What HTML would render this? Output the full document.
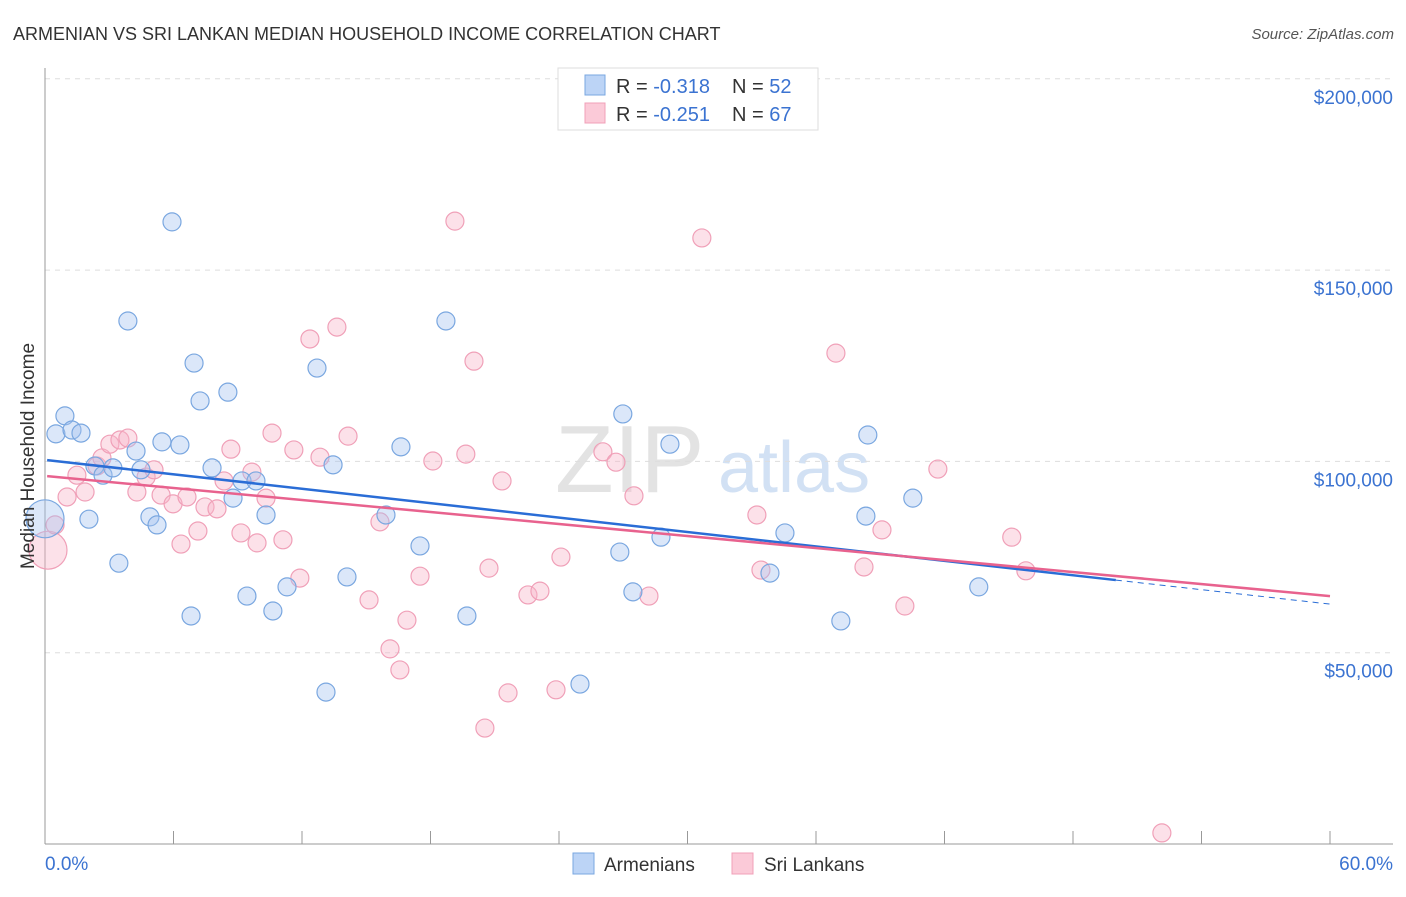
<!DOCTYPE html>
<html><head><meta charset="utf-8"><style>
body{margin:0;background:#fff;font-family:"Liberation Sans",sans-serif;}
svg text{font-family:"Liberation Sans",sans-serif;}
</style></head><body>
<svg id="chart" width="1406" height="892" viewBox="0 0 1406 892" xmlns="http://www.w3.org/2000/svg">
<text x="13" y="40" font-size="18" fill="#333">ARMENIAN VS SRI LANKAN MEDIAN HOUSEHOLD INCOME CORRELATION CHART</text>
<text x="1394" y="39" font-size="15" fill="#555" text-anchor="end" font-style="italic">Source: ZipAtlas.com</text>
<g>
<text x="555" y="492" font-size="96" fill="#ddd" font-family="Liberation Serif" opacity="0.8">ZIP</text>
<text x="718" y="492" font-size="72" fill="#c8daf2" opacity="0.8">atlas</text>
</g>
<g id="grid"></g>
<g id="axes"></g>
<g id="marks"></g>
<g id="lines"></g>
<text transform="translate(34,456) rotate(-90)" font-size="19" fill="#333" text-anchor="middle">Median Household Income</text>
<g>
<rect x="558" y="68" width="260" height="62" fill="#fff" stroke="#ddd"/>
<rect x="585" y="75" width="20" height="20" fill="#bcd4f6" stroke="#7aa7e0"/>
<text x="616" y="93" font-size="20" fill="#333">R = <tspan fill="#3b73d1">-0.318</tspan></text>
<text x="732" y="93" font-size="20" fill="#333">N = <tspan fill="#3b73d1">52</tspan></text>
<rect x="585" y="103" width="20" height="20" fill="#fbcad8" stroke="#f0a0b8"/>
<text x="616" y="121" font-size="20" fill="#333">R = <tspan fill="#3b73d1">-0.251</tspan></text>
<text x="732" y="121" font-size="20" fill="#333">N = <tspan fill="#3b73d1">67</tspan></text>
</g>
<g>
<rect x="573" y="853" width="21" height="21" fill="#bcd4f6" stroke="#7aa7e0"/>
<text x="604" y="871" font-size="19" fill="#333">Armenians</text>
<rect x="732" y="853" width="21" height="21" fill="#fbcad8" stroke="#f0a0b8"/>
<text x="764" y="871" font-size="19" fill="#333">Sri Lankans</text>
</g>
</svg>
<script>
const armX=[0.93,0.51,1.26,1.68,2.33,2.71,3.17,2.05,3.45,3.87,4.25,4.48,4.9,5.23,5.46,5.93,6.3,6.82,6.96,7.24,7.8,8.54,8.78,9.2,9.43,9.85,10.32,10.64,11.3,12.7,13.12,13.45,14.1,15.92,16.62,17.51,18.72,19.7,24.98,26.98,26.84,27.45,28.76,29.18,33.85,34.55,37.16,38.33,38.42,40.52,43.6,0];
const armY=[111.9,107.2,108.2,107.4,98.8,96.4,98.3,84.9,73.4,136.7,102.7,97.8,85.5,83.4,105.1,162.6,104.3,59.6,125.7,115.8,98.3,118.1,90.4,94.9,64.8,94.9,86.0,60.9,67.2,124.4,39.7,99.1,69.8,86.0,103.8,77.9,136.7,59.6,41.8,112.4,76.3,65.9,80.2,104.5,70.8,81.3,58.3,85.7,106.9,90.4,67.2,85];
const sriX=[0.14,0.47,1.03,1.49,1.87,2.43,2.66,3.03,3.5,3.87,4.29,4.72,5.09,5.42,5.98,6.35,6.63,7.14,7.47,8.03,8.36,8.68,9.15,9.66,9.9,10.32,10.6,11.11,11.62,11.9,12.37,12.84,13.63,14.15,15.13,15.64,16.11,16.57,16.9,17.51,18.11,19.14,19.65,20.03,20.73,21.34,21.62,22.55,23.11,23.86,24.09,26.05,26.66,27.5,28.2,30.67,33.24,33.43,36.93,38.24,39.08,40.15,41.69,45.14,45.8,52.15,20.54];
const sriY=[76.8,83.4,90.7,96.4,92.0,98.8,100.9,104.5,105.6,106.1,92.0,95.9,97.8,91.2,88.9,78.4,90.7,81.8,88.1,87.6,94.9,103.2,81.3,97.2,78.7,90.4,107.4,79.5,103.0,69.5,132.0,101.1,135.1,106.6,63.8,84.2,51.0,45.5,58.5,70.0,100.1,162.8,101.9,126.2,72.1,94.9,39.5,65.1,66.1,40.3,75.0,102.5,99.8,91.0,64.8,158.4,86.0,71.6,128.3,72.4,82.1,62.2,98.0,80.2,71.4,2.9,30.3];
const armBig=[51];const sriBig=[0];
const armTrend=[100.4,62.7];const armTrendEnd=50;
const sriTrend=[96.2,64.8];
const yTicks=[50,100,150,200];
const yTickLabels=["$50,000","$100,000","$150,000","$200,000"];
const xTickCount=10;
const NS="http://www.w3.org/2000/svg";
const X=v=>45+v/60*1285;
const Y=v=>844-v/50*191.3;
function mk(t,a,p){const e=document.createElementNS(NS,t);for(const k in a)e.setAttribute(k,a[k]);document.getElementById(p).appendChild(e);return e;}
yTicks.forEach((t,i)=>{
 const g=mk('line',{x1:45,x2:1393,y1:Y(t),y2:Y(t),stroke:'#ddd','stroke-dasharray':'5,5'},'grid');
 
 
 const l=mk('text',{x:1393,y:Y(t)+25,'font-size':19,fill:'#3b73d1','text-anchor':'end'},'grid');
 l.textContent=yTickLabels[i];
 
 
});
const ax=mk('line',{x1:45,x2:45,y1:68,y2:844,stroke:'#999'},'axes');


const bx=mk('line',{x1:45,x2:1393,y1:844,y2:844,stroke:'#999'},'axes');


for(let i=0;i<=xTickCount;i++){
 const t=mk('line',{x1:X(i*6),x2:X(i*6),y1:831,y2:844,stroke:'#999'},'axes');
 
 
}
const x0=mk('text',{x:45,y:870,'font-size':19,fill:'#3b73d1'},'axes');x0.textContent='0.0%';


const x1=mk('text',{x:1393,y:870,'font-size':19,fill:'#3b73d1','text-anchor':'end'},'axes');x1.textContent='60.0%';


function pts(xs,ys,big,fill,stroke,name){
 xs.forEach((x,i)=>{
  const c=mk('circle',{cx:X(x),cy:Y(ys[i]),r:big.includes(i)?19:9,fill:fill,stroke:stroke,'stroke-width':1.2},'marks');
  
  
 });
}
pts(sriX,sriY,sriBig,'rgba(248,180,200,0.4)','#f0a0b8','srilankan-point');
pts(armX,armY,armBig,'rgba(164,196,240,0.4)','#7aa7e0','armenian-point');
const aAt=x=>armTrend[0]+(armTrend[1]-armTrend[0])*x/60;
const sAt=x=>sriTrend[0]+(sriTrend[1]-sriTrend[0])*x/60;
const al=mk('line',{x1:X(0.1),y1:Y(aAt(0.1)),x2:X(armTrendEnd),y2:Y(aAt(armTrendEnd)),stroke:'#2a6dd6','stroke-width':2.5},'lines');


const ad=mk('line',{x1:X(armTrendEnd),y1:Y(aAt(armTrendEnd)),x2:X(60),y2:Y(aAt(60)),stroke:'#2a6dd6','stroke-width':1,'stroke-dasharray':'6,5'},'lines');


const sl=mk('line',{x1:X(0.1),y1:Y(sAt(0.1)),x2:X(60),y2:Y(sAt(60)),stroke:'#e8628e','stroke-width':2.5},'lines');


</script>
</body></html>
